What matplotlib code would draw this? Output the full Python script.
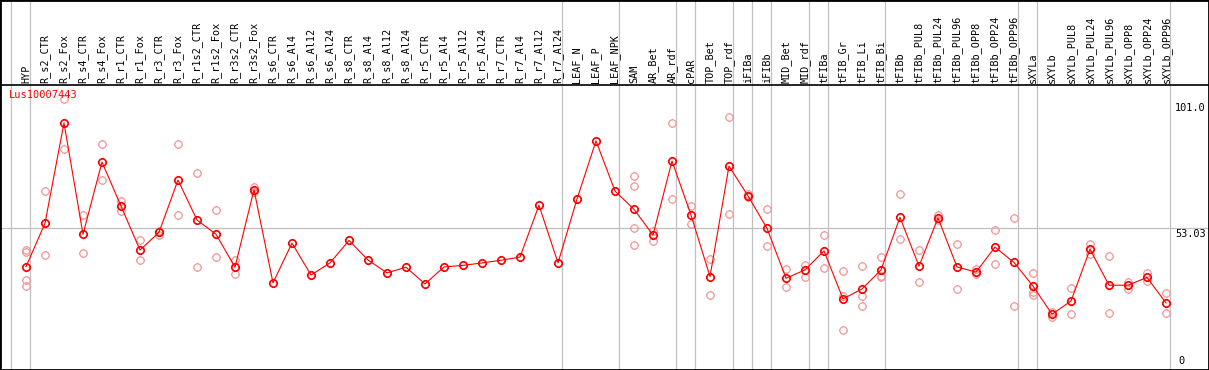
import matplotlib
matplotlib.use("Agg")
import matplotlib.pyplot as plt
from matplotlib.path import Path
from matplotlib.patches import Rectangle

gene = "Lus10007443"

labels = ["HYP", "R_s2_CTR", "R_s2_Fox", "R_s4_CTR", "R_s4_Fox", "R_r1_CTR", "R_r1_Fox",
          "R_r3_CTR", "R_r3_Fox", "R_r1s2_CTR", "R_r1s2_Fox", "R_r3s2_CTR", "R_r3s2_Fox",
          "R_s6_CTR", "R_s6_Al4", "R_s6_Al12", "R_s6_Al24", "R_s8_CTR", "R_s8_Al4",
          "R_s8_Al12", "R_s8_Al24", "R_r5_CTR", "R_r5_Al4", "R_r5_Al12", "R_r5_Al24",
          "R_r7_CTR", "R_r7_Al4", "R_r7_Al12", "R_r7_Al24", "LEAF_N", "LEAF_P", "LEAF_NPK",
          "SAM", "AR_Bet", "AR_rdf", "cPAR", "TOP_Bet", "TOP_rdf", "iFIBa", "iFIBb",
          "MID_Bet", "MID_rdf", "tFIBa", "tFIB_Gr", "tFIB_Li", "tFIB_Bi", "tFIBb",
          "tFIBb_PUL8", "tFIBb_PUL24", "tFIBb_PUL96", "tFIBb_OPP8", "tFIBb_OPP24",
          "tFIBb_OPP96", "sXYLa", "sXYLb", "sXYLb_PUL8", "sXYLb_PUL24", "sXYLb_PUL96",
          "sXYLb_OPP8", "sXYLb_OPP24", "sXYLb_OPP96"]

means = [38.5, 54.7, 92.1, 50.6, 77.5, 61.1, 44.7, 51.3, 70.8, 55.9, 50.6, 38.3, 67.2,
         32.5, 47.3, 35.4, 39.9, 48.3, 41.0, 36.2, 38.3, 32.1, 38.4, 39.0, 39.9, 40.9,
         42.1, 61.4, 39.9, 63.7, 85.4, 66.7, 59.9, 50.3, 77.9, 57.8, 34.8, 76.0, 64.9,
         52.8, 34.2, 37.3, 44.4, 26.5, 30.2, 37.3, 56.9, 38.7, 56.7, 38.4, 36.5, 45.8,
         40.1, 31.3, 20.8, 25.7, 45.0, 31.6, 31.6, 34.5, 25.0]

replicates = [
    [44.7, 44.1, 33.5, 31.3], [66.7, 42.9], [101.0, 82.3], [57.8, 43.5], [84.2, 70.8],
    [63.0, 59.3], [48.5, 40.9], [51.8, 50.3], [84.2, 57.7], [73.4, 38.3], [59.6, 42.1],
    [41.0, 35.7], [68.3, 66.2],
    [], [], [], [], [], [], [], [], [], [], [], [], [], [], [], [], [], [], [],
    [72.3, 68.6, 52.8, 46.5], [51.8, 48.2], [92.1, 63.6], [61.1, 54.4], [41.3, 28.0],
    [94.3, 58.1], [65.5, 64.3], [59.9, 46.2], [37.6, 30.8], [39.3, 34.8], [50.3, 38.1],
    [36.9, 27.7, 14.9], [38.6, 27.5, 24.0], [42.0, 35.1, 34.5], [65.6, 48.7],
    [44.6, 32.7], [57.6, 56.0], [47.0, 30.1], [37.6, 35.8], [52.1, 39.5], [56.5, 23.7],
    [36.0, 29.2, 27.8], [21.7, 19.6], [30.4, 20.8], [47.0, 43.2], [42.5, 21.1],
    [32.8, 30.3], [36.0, 33.2], [28.7, 21.1]]

# group boundaries (grey lines drawn just right of these columns)
sep_after = [-1, 0, 28, 31, 34, 35, 37, 38, 39, 41, 42, 45, 52, 53, 60]
ref_values = [101.0, 53.03, 0]

W, H = 1209, 370
top_px = 85
step = 19.0
x0 = 26

# circle marker with four small ticks
circ = Path.unit_circle()
tick_v = [(1, 0), (1.25, 0), (-1, 0), (-1.25, 0), (0, 1), (0, 1.25), (0, -1), (0, -1.25)]
tick_c = [Path.MOVETO, Path.LINETO] * 4
mk = Path.make_compound_path(circ, Path(tick_v, tick_c))

fig = plt.figure(figsize=(W / 100, H / 100), dpi=100)
ax = fig.add_axes([0, 0, 1, (H - top_px) / H])
ax.set_xlim(-x0 / step, (W - x0) / step)
ax.set_ylim(0, (H - top_px) / 2.683)
ax.set_xticks([])
ax.set_yticks([])
for s in ["left", "right", "bottom"]:
    ax.spines[s].set_visible(False)
ax.spines["top"].set_linewidth(1.2)

for i in sep_after:
    ax.axvline(i + 4 / step, ymin=0, ymax=H / (H - top_px), clip_on=False,
               color="#c0c0c0", lw=0.9, zorder=1)
ax.axhline(53.03, color="#c0c0c0", lw=0.9, zorder=1)

for i, reps in enumerate(replicates):
    if reps:
        ax.plot([i] * len(reps), reps, linestyle="none", marker=mk, markersize=6.6,
                markerfacecolor="none", markeredgecolor="#f09a9a", markeredgewidth=0.9,
                zorder=2)

xs = list(range(len(labels)))
ax.plot(xs, means, color="red", lw=0.8, zorder=3)
ax.plot(xs, means, linestyle="none", marker=mk, markersize=6.6,
        markerfacecolor="none", markeredgecolor="red", markeredgewidth=1.2,
        zorder=4)

for i, lab in enumerate(labels):
    ax.text(i, 1 + 2 / (H - top_px), lab, transform=ax.get_xaxis_transform(),
            rotation=90, ha="center", va="bottom", fontsize=7.3,
            family="DejaVu Sans Mono", clip_on=False)

ax.text(9 / W, 1 - 5 / (H - top_px), gene, transform=ax.transAxes, ha="left", va="top",
        color="red", fontsize=7.5, family="DejaVu Sans Mono")

xl = 1175 / W
ax.annotate("101.0", xy=(xl, ref_values[0]), xycoords=("axes fraction", "data"),
            xytext=(0, -4), textcoords="offset pixels", ha="left", va="top",
            fontsize=7.4, family="DejaVu Sans Mono", annotation_clip=False)
ax.annotate("53.03", xy=(xl, ref_values[1]), xycoords=("axes fraction", "data"),
            xytext=(0, -1), textcoords="offset pixels", ha="left", va="top",
            fontsize=7.4, family="DejaVu Sans Mono", annotation_clip=False)
ax.text(xl + 3 / W, 4 / (H - top_px), "0", transform=ax.transAxes, ha="left",
        va="bottom", fontsize=7.4, family="DejaVu Sans Mono")

fig.patches.append(Rectangle((0, 0), 1, 1, transform=fig.transFigure, fill=False,
                             edgecolor="black", lw=2.0, zorder=10))

fig.savefig("out.png", dpi=100)
